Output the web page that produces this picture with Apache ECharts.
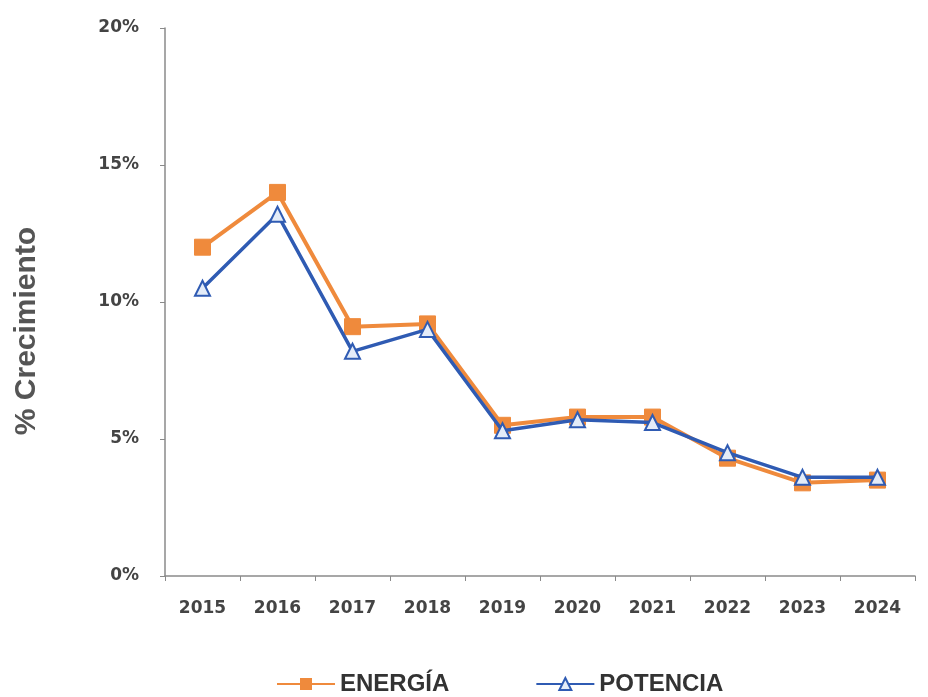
<!DOCTYPE html>
<html>
<head>
<meta charset="utf-8">
<script src="https://cdn.jsdelivr.net/npm/echarts@6/dist/echarts.min.js"></script>
<style>html,body{margin:0;padding:0;background:#fff;}#c{width:928px;height:697px;}</style>
</head>
<body>
<div id="c"></div>
<script>
const years = ['2015','2016','2017','2018','2019','2020','2021','2022','2023','2024'];
const energia = [12.0, 14.0, 9.1, 9.2, 5.5, 5.8, 5.8, 4.3, 3.4, 3.5];
const potencia = [10.5, 13.2, 8.2, 9.0, 5.3, 5.7, 5.6, 4.5, 3.6, 3.6];
const yTicks = [0, 5, 10, 15, 20];

const chart = echarts.init(document.getElementById('c'));
chart.setOption({
  backgroundColor: '#ffffff',
  animation: false,
  grid: { left: 165, right: 13, top: 28, bottom: 121, containLabel: false },
  legend: {
    left: 271, top: 667,
    itemWidth: 58, itemHeight: 15, itemGap: 86,
    textStyle: { fontFamily: 'Liberation Sans', fontSize: 24, color: '#333', fontWeight: 'bold' },
    data: ['ENERGÍA', 'POTENCIA']
  },
  xAxis: {
    type: 'category', data: years, boundaryGap: true,
    axisLine: { lineStyle: { color: '#8a8a8a', width: 1.5 } },
    axisTick: { show: true, length: 5, lineStyle: { color: '#8a8a8a' } },
    axisLabel: { margin: 24, fontFamily: 'DejaVu Sans', fontWeight: 'bold', fontSize: 17, color: '#444' }
  },
  yAxis: {
    type: 'value', min: yTicks[0], max: yTicks[yTicks.length - 1], interval: 5,
    name: '% Crecimiento', nameLocation: 'middle', nameRotate: 90, nameGap: 123,
    nameTextStyle: { fontFamily: 'Liberation Sans', fontSize: 30, fontWeight: 'bold', color: '#555', padding: [0, 58, 0, 0] },
    axisLine: { show: true, lineStyle: { color: '#8a8a8a', width: 1.5 } },
    axisTick: { show: true, length: 5, lineStyle: { color: '#8a8a8a' } },
    splitLine: { show: false },
    axisLabel: { margin: 26, formatter: '{value}%', fontFamily: 'DejaVu Sans', fontWeight: 'bold', fontSize: 17, color: '#444' }
  },
  series: [
    {
      name: 'ENERGÍA', type: 'line', data: energia,
      symbol: 'rect', symbolSize: 16,
      lineStyle: { color: '#EF8A3C', width: 4 },
      itemStyle: { color: '#EF8A3C', borderColor: '#EF8A3C' },
      z: 2
    },
    {
      name: 'POTENCIA', type: 'line', data: potencia,
      symbol: 'triangle', symbolSize: 15,
      lineStyle: { color: '#2F5BB3', width: 3.5 },
      itemStyle: { color: '#E4ECF8', borderColor: '#2F5BB3', borderWidth: 2 },
      z: 3
    }
  ]
});
</script>
</body>
</html>
